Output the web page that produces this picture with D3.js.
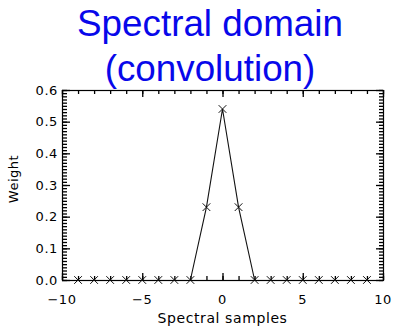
<!DOCTYPE html>
<html>
<head>
<meta charset="utf-8">
<script src="https://cdn.jsdelivr.net/npm/d3@7"></script>
<style>
  body { margin: 0; background: #fff; }
  svg { display: block; }
</style>
</head>
<body>
<div id="chart"></div>
<script>
// datos
const samples = [-9, -8, -7, -6, -5, -4, -3, -2, -1, 0, 1, 2, 3, 4, 5, 6, 7, 8, 9];
const weights = [0, 0, 0, 0, 0, 0, 0, 0, 0.23, 0.54, 0.23, 0, 0, 0, 0, 0, 0, 0, 0];
const titleLines = ["Spectral domain", "(convolution)"];
const xTicks = [-10, -5, 0, 5, 10];
const yTicks = [0.0, 0.1, 0.2, 0.3, 0.4, 0.5, 0.6];

const W = 395, H = 327;
const margin = { top: 90, right: 12, bottom: 47, left: 62 };
const width = W - margin.left - margin.right;
const height = H - margin.top - margin.bottom;

const root = d3.select("#chart").append("svg")
    .attr("width", W)
    .attr("height", H);

// título
root.selectAll(".title")
    .data(titleLines)
    .enter().append("text")
    .attr("x", 210)
    .attr("y", (d, i) => 36 + i * 45)
    .attr("text-anchor", "middle")
    .attr("font-family", "Liberation Sans, Arial, sans-serif")
    .attr("font-size", 36.8)
    .attr("fill", "#0808ea")
    .text(d => d);

const svg = root.append("g")
    .attr("transform", `translate(${margin.left},${margin.top})`);

const x = d3.scaleLinear().domain([-10, 10]).range([0, width]);
const y = d3.scaleLinear().domain([0, 0.6]).range([height, 0]);

const font = "DejaVu Sans, sans-serif";
const ink = "#000";

// ticks: ejes de d3 en los cuatro lados, sin etiquetas
const xMinor = d3.range(-10, 10.01, 1);
const yMinor = d3.range(0, 61, 1).map(d => d / 100);

function axisTicks(axis, vals, size, tx, ty) {
    const g = svg.append("g")
        .attr("transform", `translate(${tx},${ty})`)
        .call(axis.tickValues(vals).tickSize(size).tickFormat(""));
    g.select(".domain").remove();
    g.selectAll("line").attr("stroke", ink).attr("stroke-width", 1.3);
}
axisTicks(d3.axisBottom(x), xMinor, -4, 0, height);
axisTicks(d3.axisTop(x), xMinor, -4, 0, 0);
axisTicks(d3.axisBottom(x), xTicks, -7, 0, height);
axisTicks(d3.axisTop(x), xTicks, -7, 0, 0);
axisTicks(d3.axisLeft(y), yMinor, -5, 0, 0);
axisTicks(d3.axisRight(y), yMinor, -4, width, 0);
axisTicks(d3.axisLeft(y), yTicks, -8, 0, 0);
axisTicks(d3.axisRight(y), yTicks, -7, width, 0);

// marco
svg.append("rect")
    .attr("x", 0.5).attr("y", 0.5)
    .attr("width", width).attr("height", height)
    .attr("fill", "none")
    .attr("stroke", ink)
    .attr("stroke-width", 1.2);

// etiquetas de ejes
svg.append("g").selectAll("text")
    .data(xTicks).enter().append("text")
    .attr("x", d => x(d))
    .attr("y", height + 24)
    .attr("text-anchor", "middle")
    .attr("font-family", font)
    .attr("font-size", 13)
    .attr("letter-spacing", 0.6)
    .attr("fill", ink)
    .text(d => d < 0 ? "\u2212" + Math.abs(d) : d);

svg.append("g").selectAll("text")
    .data(yTicks).enter().append("text")
    .attr("x", -4)
    .attr("y", d => y(d) + 4.5)
    .attr("text-anchor", "end")
    .attr("font-family", font)
    .attr("font-size", 13)
    .attr("letter-spacing", 0.6)
    .attr("fill", ink)
    .text(d => d.toFixed(1));

svg.append("text")
    .attr("x", width / 2)
    .attr("y", height + 43)
    .attr("text-anchor", "middle")
    .attr("font-family", font)
    .attr("font-size", 14)
    .attr("letter-spacing", 0.6)
    .attr("fill", ink)
    .text("Spectral samples");

svg.append("text")
    .attr("transform", `translate(${-44},${height / 2 - 6}) rotate(-90)`)
    .attr("text-anchor", "middle")
    .attr("font-family", font)
    .attr("font-size", 13)
    .attr("letter-spacing", 0.5)
    .attr("fill", ink)
    .text("Weight");

// línea
const data = samples.map((s, i) => ({ s: s, w: weights[i] }));
const line = d3.line().x(d => x(d.s)).y(d => y(d.w));

svg.append("path")
    .datum(data.filter(d => d.s >= -2 && d.s <= 2))
    .attr("d", line)
    .attr("fill", "none")
    .attr("stroke", "#111")
    .attr("stroke-width", 1.1);

// marcadores ×
const sym = d3.symbol().type(d3.symbolX).size(40);
svg.selectAll(".mk")
    .data(data).enter().append("path")
    .attr("class", "mk")
    .attr("transform", d => `translate(${x(d.s)},${y(d.w)})`)
    .attr("d", sym)
    .attr("fill", "none")
    .attr("stroke", "#111")
    .attr("stroke-width", 1);
</script>
</body>
</html>
